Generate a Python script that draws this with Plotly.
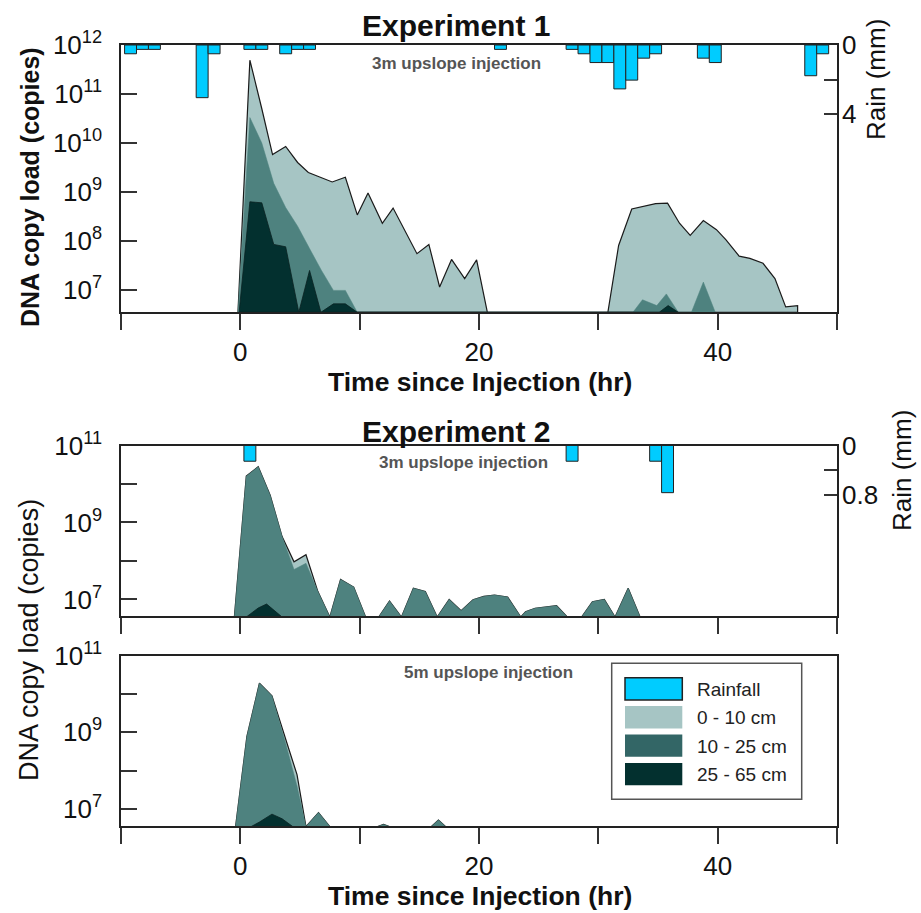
import plotly.graph_objects as go

# ---------------- DATA ----------------
# Experiment 1, 3 m upslope injection (hours since injection, DNA copies; 0 = not detected)
e1_t_010 = [-0.2, 0.8, 1.8, 2.7, 3.8, 4.8, 5.7, 7.7, 8.8, 9.8, 10.7, 11.9, 12.8, 14.8, 15.8, 16.7, 17.7,
            18.8, 19.8, 20.7, 30.8, 31.7, 32.8, 33.7, 34.8, 35.8, 36.8, 37.7, 38.8, 39.9, 40.7, 41.8,
            42.7, 43.8, 44.8, 45.7, 46.7]
e1_v_010 = [0, 4.9e11, 5.0e10, 5.8e9, 8.5e9, 4.0e9, 2.5e9, 1.6e9, 2.0e9, 3.4e8, 9.5e8, 2.3e8, 4.7e8,
            5.5e7, 8.5e7, 1.15e7, 4.2e7, 1.7e7, 4.1e7, 0, 0, 8.1e7, 4.5e8, 5.0e8, 5.8e8, 5.9e8, 2.3e8,
            1.3e8, 2.6e8, 1.7e8, 1.05e8, 4.9e7, 4.4e7, 3.5e7, 1.7e7, 4.5e6, 4.8e6]

e1_t_1025 = [-0.2, 0.8, 1.8, 2.8, 3.8, 4.8, 5.8, 6.8, 7.8, 8.8, 9.8, 32.9, 33.7, 34.9, 35.7, 36.7,
             37.8, 38.8, 39.8]
e1_v_1025 = [0, 3.3e10, 1.0e10, 1.5e9, 4.8e8, 2.0e8, 7.0e7, 2.5e7, 9.8e6, 9.8e6, 0, 0, 6.3e6, 4.8e6,
             8.3e6, 0, 0, 1.45e7, 0]

e1_t_2565 = [-0.1, 0.8, 1.8, 2.8, 3.8, 4.9, 5.8, 6.75, 7.8, 8.8, 9.8, 35.1, 35.85, 36.7]
e1_v_2565 = [0, 6.3e8, 6.0e8, 8.5e7, 7.6e7, 0, 2.5e7, 0, 5.2e6, 5.2e6, 0, 0, 4.8e6, 0]

e1_rain_t = [-9, -8, -7, -3, -2, 1, 2, 4, 5, 6, 22, 28, 29, 30, 31, 32, 33, 34, 35, 39, 40, 48, 49]
e1_rain_mm = [0.508, 0.254, 0.254, 3.048, 0.508, 0.254, 0.254, 0.508, 0.254, 0.254, 0.254, 0.254,
              0.508, 1.016, 1.016, 2.54, 2.032, 0.762, 0.508, 0.762, 1.016, 1.778, 0.508]

# Experiment 2, 3 m upslope injection
e2a_t = [-0.5, 0.5, 1.5, 2.5, 3.5, 4.5, 5.5, 6.5, 7.5, 8.4, 9.5, 10.5, 11.6, 12.5, 13.5, 14.5, 15.5,
         16.5, 17.5, 18.5, 19.5, 20.4, 21.3, 22.4, 23.5, 23.9, 24.7, 26.5, 27.4, 28.6, 29.5, 30.5,
         31.4, 32.5, 33.5]
e2a_v_1025 = [0, 1.6e10, 2.8e10, 5.1e9, 4.3e8, 6.0e7, 8.7e7, 1.6e7, 0, 3.3e7, 2.1e7, 0, 0, 9.1e6, 0,
              1.95e7, 1.6e7, 0, 1.0e7, 5.1e6, 9.8e6, 1.2e7, 1.3e7, 1.15e7, 0, 4.8e6, 5.9e6, 6.9e6, 0,
              0, 8.7e6, 1.0e7, 0, 1.95e7, 0]
e2a_v_010 = [0, 1.6e10, 2.8e10, 5.1e9, 4.3e8, 9.5e7, 1.45e8, 1.6e7, 0, 3.3e7, 2.1e7, 0, 0, 9.1e6, 0,
             1.95e7, 1.6e7, 0, 1.0e7, 5.1e6, 9.8e6, 1.2e7, 1.3e7, 1.15e7, 0, 4.8e6, 5.9e6, 6.9e6, 0,
             0, 8.7e6, 1.0e7, 0, 1.95e7, 0]
e2a_t_2565 = [0.5, 1.5, 2.2, 3.5]
e2a_v_2565 = [0, 6.0e6, 7.6e6, 0]

e2_rain_t = [1, 28, 35, 36]
e2_rain_mm = [0.254, 0.254, 0.254, 0.762]

# Experiment 2, 5 m upslope injection
e2b_t = [-0.4, 0.55, 1.6, 2.65, 3.77, 4.75, 5.5, 6.55, 7.5, 11.5, 12.0, 12.5, 16.0, 16.6, 17.2, 46.5]
e2b_v_010 = [0, 7.8e8, 1.9e10, 8.9e9, 7.1e8, 7.9e7, 0, 8.1e6, 0, 0, 4.0e6, 0, 0, 5.2e6, 0, 0]
e2b_v_1025 = [0, 7.8e8, 1.9e10, 8.9e9, 5.6e8, 4.0e7, 0, 8.1e6, 0, 0, 4.0e6, 0, 0, 5.2e6, 0, 0]
e2b_t_2565 = [0.9, 1.6, 2.65, 3.5, 4.4]
e2b_v_2565 = [0, 4.6e6, 7.4e6, 5.6e6, 0]

# tick positions (labelled / unlabelled)
x_major = [0, 20, 40]
x_minor = [-10, 10, 30, 50]
y1_major = [1e7, 1e8, 1e9, 1e10, 1e11, 1e12]
y23_major = [1e7, 1e9, 1e11]
y23_minor = [1e8, 1e10]
rain1_major, rain1_minor = [0, 4], [2]
rain2_major, rain2_minor = [0, 0.8], [0.4]

# ---------------- STYLE ----------------
FONT = "Liberation Sans, Arial, sans-serif"
C_010 = "#A6C5C4"
C_1025 = "#4E827F"
C_2565 = "#03302F"
C_RAIN = "#00CCFF"
LEG_1025 = "#336666"
FLOOR = 3.5e6  # non-detects drawn at the bottom of the axes

W, H = 921, 913
ML, MR, MT, MB = 121, 84, 45, 87


def px(x):
    return (x - ML) / (W - ML - MR)


def py(y):
    return (H - MB - y) / (H - MT - MB)


def area(t, v, fill, lc, lw, xa, ya):
    vv = [FLOOR if val <= 0 else val for val in v]
    xs = list(t) + list(t)[::-1]
    ys = vv + [FLOOR] * len(t)
    return go.Scatter(x=xs, y=ys, fill='toself', fillcolor=fill, mode='lines',
                      line=dict(color=lc, width=lw), xaxis=xa, yaxis=ya,
                      showlegend=False, hoverinfo='skip')


def rain(t, v, xa, ya):
    return go.Bar(x=t, y=v, width=1, offset=-0.7, xaxis=xa, yaxis=ya,
                  marker=dict(color=C_RAIN, line=dict(color='#222', width=1)),
                  showlegend=False, hoverinfo='skip')


fig = go.Figure()
# Panel 1
fig.add_trace(area(e1_t_010, e1_v_010, C_010, '#1a1a1a', 1.2, 'x', 'y'))
fig.add_trace(area(e1_t_1025, e1_v_1025, C_1025, C_1025, 0.5, 'x', 'y'))
fig.add_trace(area(e1_t_2565, e1_v_2565, C_2565, '#0a2222', 0.8, 'x', 'y'))
fig.add_trace(rain(e1_rain_t, e1_rain_mm, 'x', 'y4'))
# Panel 2
fig.add_trace(area(e2a_t, e2a_v_010, C_010, '#1a1a1a', 1.2, 'x2', 'y2'))
fig.add_trace(area(e2a_t, e2a_v_1025, C_1025, C_1025, 0.5, 'x2', 'y2'))
fig.add_trace(area(e2a_t_2565, e2a_v_2565, C_2565, '#0a2222', 0.8, 'x2', 'y2'))
fig.add_trace(rain(e2_rain_t, e2_rain_mm, 'x2', 'y5'))
# Panel 3
fig.add_trace(area(e2b_t, e2b_v_010, C_010, '#1a1a1a', 1.2, 'x3', 'y3'))
fig.add_trace(area(e2b_t, e2b_v_1025, C_1025, C_1025, 0.5, 'x3', 'y3'))
fig.add_trace(area(e2b_t_2565, e2b_v_2565, C_2565, '#0a2222', 0.8, 'x3', 'y3'))

TICKC = '#333'
xcommon = dict(range=[-10, 50], tickmode='array', tickvals=x_major, ticks='outside',
               ticklen=16, tickwidth=1.5, tickcolor=TICKC, showline=True, linecolor='#222',
               linewidth=1.5, mirror=True, showgrid=False, zeroline=False,
               minor=dict(tickmode='array', tickvals=x_minor, ticks='outside', ticklen=16,
                          tickwidth=1.5, tickcolor=TICKC, showgrid=False),
               tickfont=dict(size=26, color='#111'), domain=[0, 1])


def sup(v):
    import math
    return '10<sup>%d</sup>' % round(math.log10(v))


def ycommon(rng, dom, major, minor):
    d = dict(type='log', range=rng, domain=dom, tickmode='array', tickvals=major,
             ticktext=[sup(v) for v in major],
             ticks='inside', ticklen=16, tickwidth=1.5, tickcolor=TICKC, showline=True,
             linecolor='#222', linewidth=1.5, mirror=True, showgrid=False, zeroline=False,
             tickfont=dict(size=26, color='#111'), ticklabelstandoff=12)
    if minor:
        d['minor'] = dict(tickmode='array', tickvals=minor, ticks='inside', ticklen=16,
                          tickwidth=1.5, tickcolor=TICKC, showgrid=False)
    return d


def rain_axis(over, anchor, rng, major, minor):
    return dict(side='right', overlaying=over, anchor=anchor, range=rng, showgrid=False,
                zeroline=False, showline=False, tickmode='array', tickvals=major,
                ticktext=[('%g' % v) for v in major], ticks='inside', ticklen=13,
                tickwidth=1.5, tickcolor=TICKC, tickfont=dict(size=26, color='#111'),
                ticklabelstandoff=4,
                minor=dict(tickmode='array', tickvals=minor, ticks='inside', ticklen=13,
                           tickwidth=1.5, tickcolor=TICKC, showgrid=False))


fig.update_layout(
    width=W, height=H, autosize=False,
    margin=dict(l=ML, r=MR, t=MT, b=MB, pad=0),
    paper_bgcolor='white', plot_bgcolor='white',
    font=dict(family=FONT, color='#111'),
    showlegend=False, barmode='overlay',
    xaxis=dict(xcommon, anchor='y'),
    xaxis2=dict(xcommon, anchor='y2', showticklabels=False),
    xaxis3=dict(xcommon, anchor='y3'),
    yaxis=ycommon([6.55, 12], [py(312), 1.0], y1_major, None),
    yaxis2=ycommon([6.57, 11], [py(616), py(445.5)], y23_major, y23_minor),
    yaxis3=ycommon([6.56, 11], [0, py(655.5)], y23_major, y23_minor),
    yaxis4=rain_axis('y', 'x', [15.45, 0], rain1_major, rain1_minor),
    yaxis5=rain_axis('y2', 'x2', [2.755, 0], rain2_major, rain2_minor),
)

ann = []


def text(x, y, s, size, bold=False, color='#111', angle=0, xanchor='center'):
    ann.append(dict(x=px(x), y=py(y), xref='paper', yref='paper', text=('<b>%s</b>' % s) if bold else s,
                    showarrow=False, xanchor=xanchor, yanchor='middle', textangle=angle,
                    font=dict(size=size, color=color, family=FONT)))


text(456, 25, 'Experiment 1', 30, bold=True)
text(456, 64, '3m upslope injection', 17, bold=True, color='#555')
text(456, 431, 'Experiment 2', 30, bold=True)
text(463, 463, '3m upslope injection', 17, bold=True, color='#555')
text(488, 672, '5m upslope injection', 17, bold=True, color='#555')
text(30, 187, 'DNA copy load (copies)', 25, bold=True, angle=-90)
text(29, 640, 'DNA copy load (copies)', 27, angle=-90)
text(876, 80, 'Rain (mm)', 26, angle=-90)
text(902, 470, 'Rain (mm)', 26, angle=-90)
text(480, 382, 'Time since Injection (hr)', 26.5, bold=True)
text(480, 896, 'Time since Injection (hr)', 26.5, bold=True)

# legend (drawn manually, inside the bottom panel)
shapes = []


def rect(x0, y0, x1, y1, fill, lc, lw):
    shapes.append(dict(type='rect', xref='paper', yref='paper', x0=px(x0), x1=px(x1),
                       y0=py(y1), y1=py(y0), fillcolor=fill, line=dict(color=lc, width=lw),
                       layer='above'))


rect(611.7, 663.3, 801.7, 799.3, 'white', '#555', 1.5)
leg_items = [('Rainfall', C_RAIN, '#222', 1.5), ('0 - 10 cm', C_010, C_010, 0),
             ('10 - 25 cm', LEG_1025, LEG_1025, 0), ('25 - 65 cm', C_2565, C_2565, 0)]
for i, (lab, fc, lc, lw) in enumerate(leg_items):
    y0 = 677.7 + i * 28.4
    rect(625, y0, 682.3, y0 + 22.3, fc, lc, lw)
    text(695, y0 + 11.5, lab, 19, xanchor='left', color='#222')

fig.update_layout(annotations=ann, shapes=shapes)
fig.write_html("out.html")
